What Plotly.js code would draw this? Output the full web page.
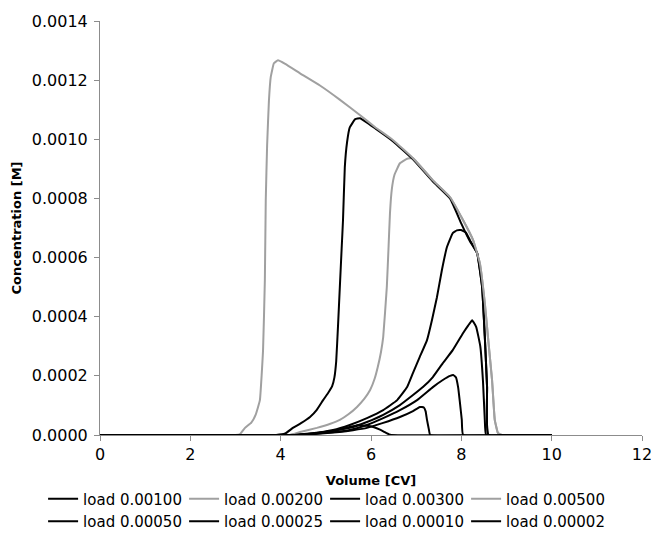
<!DOCTYPE html>
<html>
<head>
<meta charset="utf-8">
<script src="https://cdn.plot.ly/plotly-3.0.1.min.js"></script>
<style>html,body{margin:0;padding:0;background:#fff;}#chart{width:651px;height:542px;}</style>
</head>
<body>
<div id="chart"></div>
<script>
// Series names (legend order)
const names = ["load 0.00100","load 0.00200","load 0.00300","load 0.00500","load 0.00050","load 0.00025","load 0.00010","load 0.00002"];
const colors = ["#000000","#a0a0a0","#000000","#a0a0a0","#000000","#000000","#000000","#000000"];

// load 0.00100
const x001 = [0, 4.2, 4.7, 5.16, 5.53, 5.91, 6.27, 6.58, 6.8, 6.93, 7.08, 7.24, 7.35, 7.46, 7.57, 7.68, 7.81, 7.9, 7.99, 8.1, 8.19, 8.35, 8.46, 8.52, 8.57, 8.6, 10];
const y001 = [0, 0, 0.000006, 0.000017, 0.000034, 0.000057, 0.000084, 0.000118, 0.000162, 0.00021, 0.000264, 0.000321, 0.000389, 0.000466, 0.000558, 0.000635, 0.000683, 0.000692, 0.000693, 0.000685, 0.000659, 0.000615, 0.0005, 0.000331, 0.000162, 0, 0];
// load 0.00200
const x002 = [0, 4.2, 4.43, 4.8, 5.1, 5.31, 5.5, 5.69, 5.85, 5.98, 6.08, 6.15, 6.22, 6.27, 6.35, 6.39, 6.42, 6.46, 6.52, 6.64, 6.8, 6.93, 7.37, 7.75, 8.04, 8.26, 8.41, 8.52, 8.59, 8.68, 8.74, 8.81, 8.9, 10];
const y002 = [0, 0, 0.00001, 0.000024, 0.000038, 0.000051, 0.00007, 0.000095, 0.000122, 0.000152, 0.00019, 0.00023, 0.00028, 0.000331, 0.0005, 0.00064, 0.00075, 0.00083, 0.00088, 0.000919, 0.000934, 0.000936, 0.000861, 0.000804, 0.000726, 0.000659, 0.000581, 0.000446, 0.000331, 0.000186, 0.000051, 0.000007, 0, 0];
// load 0.00300
const x003 = [0, 3.9, 4.1, 4.27, 4.45, 4.65, 4.8, 4.94, 5.05, 5.14, 5.19, 5.23, 5.27, 5.31, 5.35, 5.38, 5.42, 5.47, 5.53, 5.65, 5.76, 6.1, 6.49, 6.93, 7.37, 7.75, 8.0, 8.19, 8.35, 8.46, 8.52, 8.57, 8.6, 10];
const y003 = [0, 0, 0.000005, 0.000024, 0.00004, 0.000061, 0.000085, 0.000118, 0.000142, 0.000165, 0.000195, 0.00025, 0.00037, 0.0005, 0.00063, 0.000726, 0.000905, 0.00099, 0.00104, 0.001068, 0.001071, 0.001036, 0.000993, 0.000932, 0.000857, 0.0008, 0.000715, 0.000655, 0.000615, 0.0005, 0.000331, 0.000162, 0, 0];
// load 0.00500
const x005 = [0, 3.0, 3.1, 3.21, 3.35, 3.45, 3.54, 3.61, 3.65, 3.67, 3.7, 3.74, 3.78, 3.85, 3.94, 4.1, 4.43, 4.87, 5.3, 5.76, 6.1, 6.49, 6.93, 7.37, 7.75, 8.04, 8.26, 8.41, 8.52, 8.59, 8.68, 8.74, 8.81, 8.9, 10];
const y005 = [0, 0, 0.000003, 0.000024, 0.000042, 0.00007, 0.000118, 0.000287, 0.000524, 0.000794, 0.00098, 0.00113, 0.00121, 0.001257, 0.001267, 0.001255, 0.001223, 0.001182, 0.001135, 0.001081, 0.00104, 0.000997, 0.000936, 0.000861, 0.000804, 0.000726, 0.000659, 0.000581, 0.000446, 0.000331, 0.000186, 0.000051, 0.000007, 0, 0];
// load 0.00050
const x0005 = [0, 4.3, 4.8, 5.2, 5.53, 5.91, 6.27, 6.64, 6.93, 7.15, 7.37, 7.59, 7.81, 8.04, 8.15, 8.24, 8.33, 8.42, 8.48, 8.52, 8.55, 10];
const y0005 = [0, 0, 0.000007, 0.000015, 0.000024, 0.000044, 0.000068, 0.000101, 0.000135, 0.000162, 0.000196, 0.000243, 0.000287, 0.000345, 0.00037, 0.000388, 0.000365, 0.0003, 0.00018, 0.00005, 0, 0];
// load 0.00025
const x00025 = [0, 4.3, 4.8, 5.2, 5.53, 5.91, 6.27, 6.64, 7.02, 7.37, 7.59, 7.75, 7.82, 7.88, 7.93, 7.97, 8.01, 8.04, 10];
const y00025 = [0, 0, 0.000005, 0.00001, 0.000017, 0.000034, 0.000057, 0.000084, 0.000118, 0.000162, 0.000186, 0.0002, 0.000203, 0.000195, 0.00016, 0.000108, 0.000051, 0, 0];
// load 0.00010
const x0001 = [0, 4.4, 4.9, 5.3, 5.6, 5.91, 6.27, 6.64, 6.93, 7.08, 7.17, 7.21, 7.24, 7.28, 7.31, 10];
const y0001 = [0, 0, 0.000005, 0.00001, 0.000016, 0.000024, 0.000041, 0.000061, 0.000081, 0.000095, 0.000093, 0.00008, 0.000051, 0.00002, 0, 0];
// load 0.00002
const x00002 = [0, 4.5, 5.0, 5.4, 5.7, 5.9, 6.05, 6.2, 6.3, 6.4, 6.45, 10];
const y00002 = [0, 0, 0.00001, 0.000022, 0.000033, 0.000031, 0.000027, 0.000018, 0.00001, 0.000002, 0, 0];

const xs = [x001, x002, x003, x005, x0005, x00025, x0001, x00002];
const ys = [y001, y002, y003, y005, y0005, y00025, y0001, y00002];

const xTicks = [0, 2, 4, 6, 8, 10, 12];
const yTicks = [0, 0.0002, 0.0004, 0.0006, 0.0008, 0.0010, 0.0012, 0.0014];

const traces = names.map((n, i) => ({
  type: 'scatter', mode: 'lines', name: n,
  x: xs[i], y: ys[i],
  line: {color: colors[i], width: 2, shape: 'spline', smoothing: 0.3},
  hoverinfo: 'skip'
}));

const font = {family: 'DejaVu Sans, Verdana, sans-serif', color: '#000'};

const layout = {
  width: 651, height: 542,
  paper_bgcolor: '#fff', plot_bgcolor: '#fff',
  margin: {l: 100, r: 9, t: 21, b: 107, autoexpand: false},
  font: Object.assign({size: 16}, font),
  showlegend: true,
  xaxis: {
    range: [0, 12], tickvals: xTicks, ticktext: xTicks.map(String),
    showgrid: false, zeroline: false, automargin: false,
    showline: true, linecolor: '#8c8c8c', linewidth: 1,
    ticks: 'outside', ticklen: 5, tickcolor: '#8c8c8c',
    ticklabeloverflow: 'allow',
    tickfont: Object.assign({size: 16}, font),
    title: {text: '<b>Volume [CV]</b>', font: Object.assign({size: 13}, font), standoff: 12}
  },
  yaxis: {
    range: [0, 0.0014], tickvals: yTicks, ticktext: yTicks.map(v => v.toFixed(4)),
    showgrid: false, zeroline: false, automargin: false,
    showline: true, linecolor: '#8c8c8c', linewidth: 1,
    ticks: 'outside', ticklen: 5, tickcolor: '#8c8c8c',
    ticklabelstandoff: 3,
    tickfont: Object.assign({size: 16}, font),
    title: {text: '<b>Concentration [M]</b>', font: Object.assign({size: 13}, font), standoff: 7}
  },
  legend: {
    orientation: 'h', x: -0.105, xanchor: 'left', y: -0.115, yanchor: 'top',
    font: Object.assign({size: 15}, font),
    itemwidth: 30, entrywidth: 96, entrywidthmode: 'pixels',
    tracegroupgap: 0, bgcolor: 'rgba(0,0,0,0)'
  }
};

Plotly.newPlot('chart', traces, layout, {displayModeBar: false, staticPlot: true});
</script>
</body>
</html>
